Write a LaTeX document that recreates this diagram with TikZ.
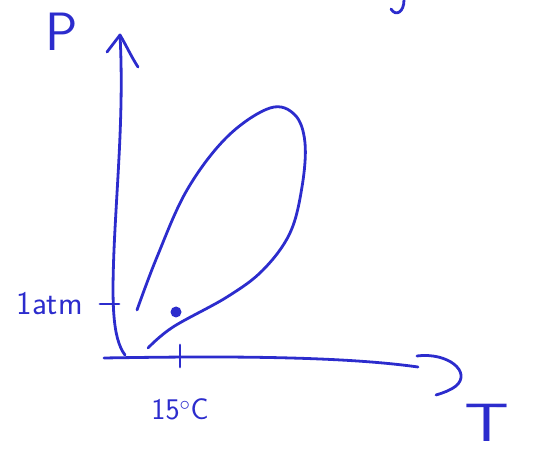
\documentclass[tikz,border=0pt]{standalone}
\usetikzlibrary{positioning}
\definecolor{pen}{RGB}{44,44,205}

\begin{document}
\begin{tikzpicture}[x=1pt, y=-1pt,
    ink/.style={draw=pen, line width=2.8pt, line cap=round, line join=round},
    lbl/.style={text=pen, inner sep=0pt, font=\sffamily\fontsize{30}{30}\selectfont},
    biglbl/.style={lbl, font=\sffamily\fontsize{54}{54}\selectfont}
  ]
    \useasboundingbox (0,0) rectangle (541,454);
    % axes
    \coordinate (origin) at (125,355);
    \coordinate (ptop) at (120,35);
    \coordinate (tstart) at (104,358);
    \coordinate (tend) at (418,367);
    \draw[ink] (origin) .. controls (112,338) and (112,300) .. (114,250)
                        .. controls (117,180) and (124,110) .. (ptop);
    \draw[ink] (107,52) -- (ptop) .. controls (126,45) and (132,58) .. (138,67);
    \draw[ink] (tstart) .. controls (220,356) and (340,356) .. (tend);
    \draw[ink] (417,356) .. controls (448,352) and (472,372) .. (456,386)
                         .. controls (451,390) and (443,393) .. (436,395);
    % ticks
    \coordinate (tick15) at (180,356);
    \coordinate (tick1atm) at (114,304);
    \draw[ink] ([yshift=-11pt]tick15) -- ([yshift=11pt]tick15);
    \draw[ink] ([xshift=-14pt]tick1atm) -- ([xshift=5pt]tick1atm);
    % loop
    \draw[ink] plot[smooth, tension=0.6] coordinates {(137,310) (157,257) (187,190)
      (227,137) (270,108) (295,115) (305,143) (302,187) (290,233) (263,270)
      (227,297) (173,327) (148,348)};
    \fill[pen] (176,312) circle (5.5pt);
    % labels
    \node[biglbl] (plbl) at (62,32) {P};
    \node[biglbl, xscale=1.3] (tlbl) at (487,423) {T};
    \node[lbl, font=\sffamily\fontsize{33}{33}\selectfont, left=31pt of tick1atm] (atm) {1atm};
    \node[lbl, below=42pt of tick15] (temp) {15$^{\circ}$C};
    % cut-off stroke at top
    \draw[ink] (404,0) .. controls (404,12) and (396,17) .. (391,9);
  \end{tikzpicture}
\end{document}
